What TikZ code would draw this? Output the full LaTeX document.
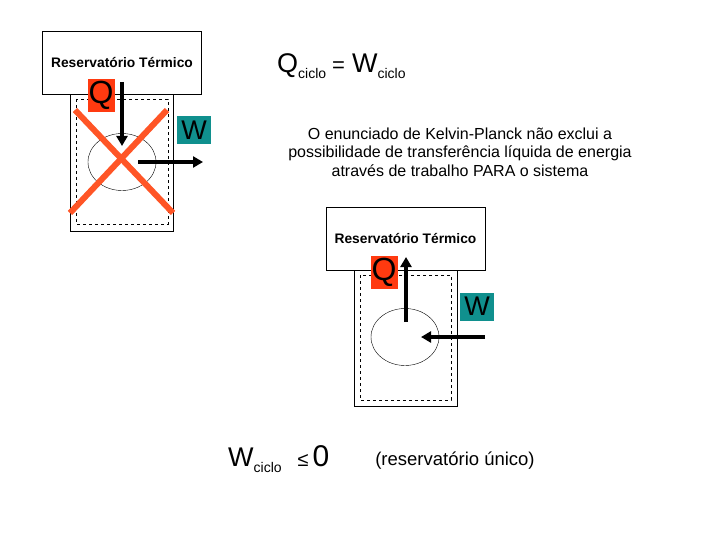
\documentclass[tikz,border=0pt]{standalone}
\usepackage{fontspec}
\setmainfont{Liberation Sans}
\usetikzlibrary{
  shapes.geometric,
  arrows.meta,
}
\definecolor{cQ}{HTML}{FF3A10}
\definecolor{cW}{HTML}{10908E}
\definecolor{cX}{HTML}{FF5526}

\tikzset{
  reservoir/.style={draw, fill=white, minimum width=159pt, minimum height=63pt, inner sep=0pt,
      font=\bfseries\fontsize{13.8}{16}\selectfont},
  qbox/.style={fill=cQ, minimum width=27pt, minimum height=33pt, inner sep=0pt,
      font=\fontsize{32}{32}\selectfont},
  wbox/.style={fill=cW, minimum width=34pt, minimum height=28pt, inner sep=0pt,
      font=\fontsize{27}{27}\selectfont},
  engine/.style={draw, ellipse, minimum width=68pt, minimum height=57pt, inner sep=0pt},
  flow/.style={line width=3.4pt, -{Triangle[length=10pt,width=11pt]}},
  cross/.style={cX, line width=6pt},
}

\newcommand{\bigsym}[1]{{\fontsize{27}{29}\selectfont #1}}
\newcommand{\subtxt}[1]{\raisebox{-6pt}{\fontsize{14}{16}\selectfont #1}}

\begin{document}
\begin{tikzpicture}[x=1pt,y=-1pt]
  \useasboundingbox (0,0) rectangle (720,540);

  % ciclo com trabalho liquido produzido (proibido)
  \draw (70,94) rectangle (173,231);
  \draw[dashed] (76,99) rectangle (168,224);
  \node[engine] (eng1) at (122,162) {};
  \node[reservoir] (res1) at (122,62.5) {Reservatório Térmico};
  \node[qbox] (q1) at (101,95.5) {Q};
  \node[wbox] (w1) at (194,130.5) {W};
  \coordinate (q1a) at (122,82);
  \coordinate (q1b) at (122,146);
  \coordinate (w1a) at (138,162);
  \coordinate (w1b) at (203,162);
  \draw[flow] (q1a) -- (q1b);
  \draw[flow] (w1a) -- (w1b);
  \draw[cross] (75,110) -- (173,213);
  \draw[cross] (167,110) -- (70,213);

  \node[anchor=base west, inner sep=0pt] (eq1) at (277,73)
    {\bigsym{Q}\subtxt{ciclo}\hspace{6pt}{\fontsize{22}{24}\selectfont =}\hspace{7pt}\bigsym{W}\subtxt{ciclo}};

  \node[align=center, font=\fontsize{16}{18.7}\selectfont] (txt) at (460,152)
    {O enunciado de Kelvin-Planck não exclui a\\
     possibilidade de transferência líquida de energia\\
     através de trabalho PARA o sistema};

  % reservatorio unico
  \draw (354,270) rectangle (457,406);
  \draw[dashed] (360,275) rectangle (451,400);
  \node[engine] (eng2) at (405,337) {};
  \node[reservoir] (res2) at (405.5,238.5) {Reservatório Térmico};
  \node[qbox] (q2) at (384,272) {Q};
  \node[wbox] (w2) at (477,306.5) {W};
  \coordinate (q2a) at (406,322);
  \coordinate (q2b) at (406,257);
  \coordinate (w2a) at (485,337);
  \coordinate (w2b) at (421,337);
  \draw[flow] (q2a) -- (q2b);
  \draw[flow] (w2a) -- (w2b);

  \node[anchor=base west, inner sep=0pt] (eq2) at (228,466)
    {\bigsym{W}\subtxt{ciclo}\hspace{16pt}{\fontsize{20}{22}\selectfont ≤}\hspace{4pt}{\fontsize{30}{32}\selectfont 0}};
  \node[anchor=base, font=\fontsize{18.5}{21}\selectfont] (uni) at (455,465) {(reservatório único)};
\end{tikzpicture}
\end{document}
